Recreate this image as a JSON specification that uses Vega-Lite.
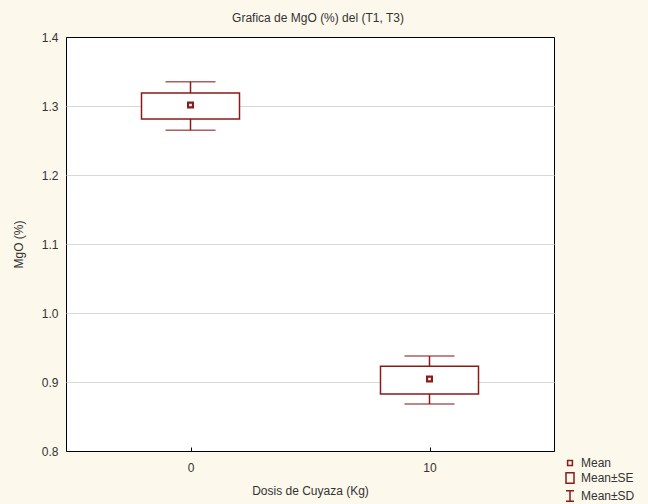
{
  "$schema": "https://vega.github.io/schema/vega-lite/v6.json",
  "autosize": "none",
  "width": 488,
  "height": 414,
  "padding": {"left": 66, "top": 37, "right": 94, "bottom": 53},
  "background": "#FDF8EC",
  "title": {"text": "Grafica de MgO (%) del (T1, T3)", "font": "Liberation Sans", "fontSize": 12, "fontWeight": "normal", "color": "#333333", "anchor": "middle", "dx": 8, "offset": 6},
  "config": {
    "view": {"fill": "#FFFFFF", "stroke": "#000000", "strokeWidth": 1},
    "font": "Liberation Sans",
    "axis": {"labelFont": "Liberation Sans", "titleFont": "Liberation Sans", "labelFontSize": 12, "titleFontSize": 12, "titleFontWeight": "normal", "labelColor": "#333333", "titleColor": "#333333", "domain": false}
  },
  "data": {"values": [
    {"dosis": 0, "mean": 1.3015, "se_lo": 1.281, "se_hi": 1.3188, "sd_lo": 1.265, "sd_hi": 1.335},
    {"dosis": 10, "mean": 0.9043, "se_lo": 0.8826, "se_hi": 0.923, "sd_lo": 0.868, "sd_hi": 0.9377}
  ]},
  "encoding": {
    "x": {"field": "dosis", "type": "quantitative", "scale": {"domain": [-5, 15], "nice": false, "zero": false},
      "axis": {"values": [0, 10], "format": "d", "grid": false, "ticks": true, "tickSize": -4, "tickColor": "#000000", "labelPadding": 15, "title": "Dosis de Cuyaza (Kg)", "titlePadding": 12}}
  },
  "layer": [
    {
      "mark": {"type": "rule", "color": "#8B1A1A", "strokeWidth": 1.5},
      "encoding": {
        "y": {"field": "sd_lo", "type": "quantitative", "scale": {"domain": [0.8, 1.4], "nice": false, "zero": false},
          "axis": {"values": [0.8, 0.9, 1.0, 1.1, 1.2, 1.3, 1.4], "format": ".1f", "grid": true,
            "gridColor": {"condition": {"test": "datum.value <= 0.801 || datum.value >= 1.399", "value": "#000000"}, "value": "#D9D9D9"},
            "ticks": false, "labelPadding": 8, "title": "MgO (%)", "titlePadding": 16}},
        "y2": {"field": "sd_hi"}
      }
    },
    {
      "mark": {"type": "tick", "orient": "horizontal", "size": 50, "thickness": 1.5, "color": "#8B1A1A"},
      "encoding": {"y": {"field": "sd_lo", "type": "quantitative"}}
    },
    {
      "mark": {"type": "tick", "orient": "horizontal", "size": 50, "thickness": 1.5, "color": "#8B1A1A"},
      "encoding": {"y": {"field": "sd_hi", "type": "quantitative"}}
    },
    {
      "mark": {"type": "bar", "size": 98, "fill": "#FFFFFF", "stroke": "#8B1A1A", "strokeWidth": 1.5},
      "encoding": {"y": {"field": "se_lo", "type": "quantitative"}, "y2": {"field": "se_hi"}}
    },
    {
      "mark": {"type": "point", "filled": false, "size": 64, "strokeWidth": 2.2, "color": "#8B1A1A", "opacity": 1},
      "encoding": {
        "y": {"field": "mean", "type": "quantitative"},
        "shape": {"datum": "Mean", "type": "nominal",
          "scale": {"domain": ["Mean", "Mean±SE", "Mean±SD"], "range": ["M-0.6,-0.6H0.6V0.6H-0.6Z", "M-1,-1.3H1V1.3H-1Z", "M-1,-1.3H1M0,-1.3V1.3M-1,1.3H1"]},
          "legend": {"title": null, "orient": "none", "legendX": 498, "legendY": 420, "padding": 0, "symbolSize": 64, "labelFontSize": 12, "labelColor": "#333333", "labelFont": "Liberation Sans", "rowPadding": 0, "labelOffset": 5,
            "encode": {"symbols": {"update": {"fill": {"value": "transparent"}, "stroke": {"value": "#8B1A1A"}, "opacity": {"value": 1}, "strokeWidth": {"signal": "datum.value === 'Mean' ? 2.5 : 1.2"}}}}}
        }
      }
    }
  ]
}
